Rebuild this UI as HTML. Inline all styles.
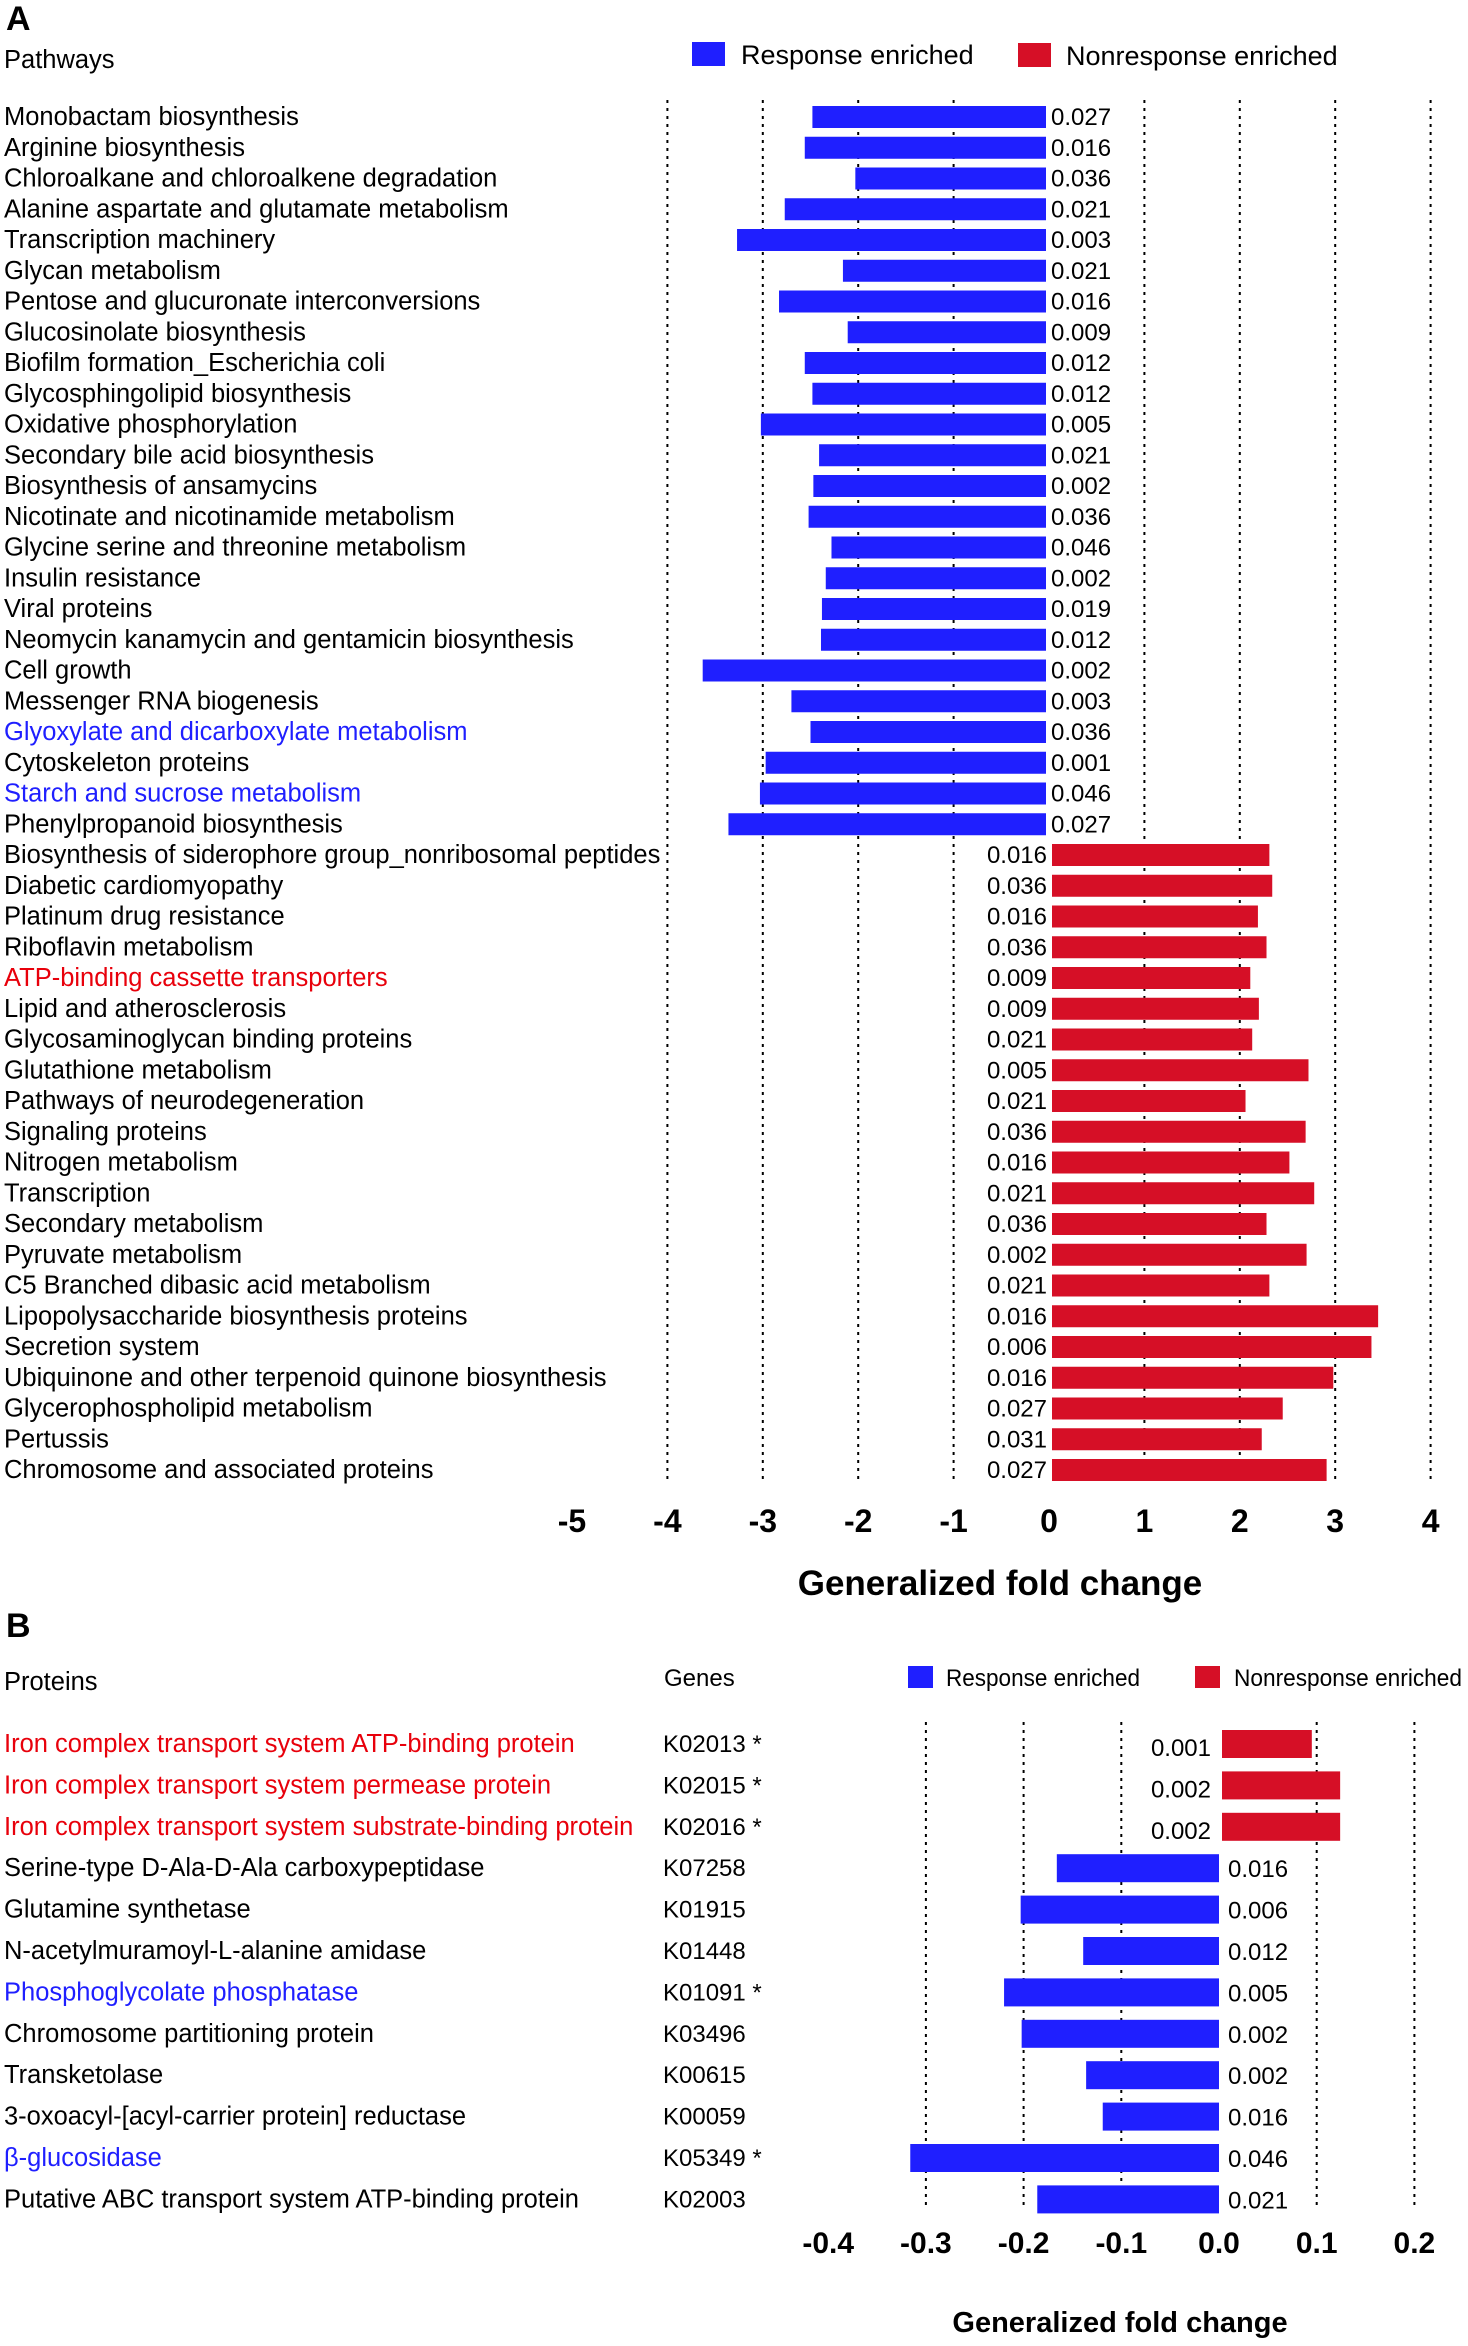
<!DOCTYPE html>
<html><head><meta charset="utf-8"><style>
html,body{margin:0;padding:0;background:#fff;}
svg{display:block;font-family:"Liberation Sans",Arial,sans-serif;}
</style></head><body>
<svg id="chart" width="1468" height="2346" viewBox="0 0 1468 2346" xmlns="http://www.w3.org/2000/svg"></svg>
<script>
// ---- Panel A data ----
const pathwaysA = ["Monobactam biosynthesis","Arginine biosynthesis","Chloroalkane and chloroalkene degradation","Alanine aspartate and glutamate metabolism","Transcription machinery","Glycan metabolism","Pentose and glucuronate interconversions","Glucosinolate biosynthesis","Biofilm formation_Escherichia coli","Glycosphingolipid biosynthesis","Oxidative phosphorylation","Secondary bile acid biosynthesis","Biosynthesis of ansamycins","Nicotinate and nicotinamide metabolism","Glycine serine and threonine metabolism","Insulin resistance","Viral proteins","Neomycin kanamycin and gentamicin biosynthesis","Cell growth","Messenger RNA biogenesis","Glyoxylate and dicarboxylate metabolism","Cytoskeleton proteins","Starch and sucrose metabolism","Phenylpropanoid biosynthesis","Biosynthesis of siderophore group_nonribosomal peptides","Diabetic cardiomyopathy","Platinum drug resistance","Riboflavin metabolism","ATP-binding cassette transporters","Lipid and atherosclerosis","Glycosaminoglycan binding proteins","Glutathione metabolism","Pathways of neurodegeneration","Signaling proteins","Nitrogen metabolism","Transcription","Secondary metabolism","Pyruvate metabolism","C5 Branched dibasic acid metabolism","Lipopolysaccharide biosynthesis proteins","Secretion system","Ubiquinone and other terpenoid quinone biosynthesis","Glycerophospholipid metabolism","Pertussis","Chromosome and associated proteins"];
const foldA = [-2.48,-2.56,-2.03,-2.77,-3.27,-2.16,-2.83,-2.11,-2.56,-2.48,-3.02,-2.41,-2.47,-2.52,-2.28,-2.34,-2.38,-2.39,-3.63,-2.70,-2.50,-2.97,-3.03,-3.36,2.31,2.34,2.19,2.28,2.11,2.20,2.13,2.72,2.06,2.69,2.52,2.78,2.28,2.70,2.31,3.45,3.38,2.98,2.45,2.23,2.91];
const pA = ["0.027","0.016","0.036","0.021","0.003","0.021","0.016","0.009","0.012","0.012","0.005","0.021","0.002","0.036","0.046","0.002","0.019","0.012","0.002","0.003","0.036","0.001","0.046","0.027","0.016","0.036","0.016","0.036","0.009","0.009","0.021","0.005","0.021","0.036","0.016","0.021","0.036","0.002","0.021","0.016","0.006","0.016","0.027","0.031","0.027"];
const colorA = {20:"#1f1fff",22:"#1f1fff",28:"#e8000b"};
const ticksA = [-5,-4,-3,-2,-1,0,1,2,3,4];
const gridA = [-4,-3,-2,-1,1,2,3,4];

// ---- Panel B data ----
const proteinsB = ["Iron complex transport system ATP-binding protein","Iron complex transport system permease protein","Iron complex transport system substrate-binding protein","Serine-type D-Ala-D-Ala carboxypeptidase","Glutamine synthetase","N-acetylmuramoyl-L-alanine amidase","Phosphoglycolate phosphatase","Chromosome partitioning protein","Transketolase","3-oxoacyl-[acyl-carrier protein] reductase","β-glucosidase","Putative ABC transport system ATP-binding protein"];
const genesB = ["K02013","K02015","K02016","K07258","K01915","K01448","K01091","K03496","K00615","K00059","K05349","K02003"];
const starB = [1,1,1,0,0,0,1,0,0,0,1,0];
const foldB = [0.095,0.124,0.124,-0.166,-0.203,-0.139,-0.220,-0.202,-0.136,-0.119,-0.316,-0.186];
const pB = ["0.001","0.002","0.002","0.016","0.006","0.012","0.005","0.002","0.002","0.016","0.046","0.021"];
const colorB = {0:"#e8000b",1:"#e8000b",2:"#e8000b",6:"#1f1fff",10:"#1f1fff"};
const ticksB = [-0.4,-0.3,-0.2,-0.1,0.0,0.1,0.2];
const gridB = [-0.3,-0.2,-0.1,0.1,0.2];

const NS="http://www.w3.org/2000/svg";
const svg=document.getElementById('chart');
function mk(tag,attrs,text){const e=document.createElementNS(NS,tag);for(const k in attrs)e.setAttribute(k,attrs[k]);if(text!==undefined)e.textContent=text;svg.appendChild(e);return e;}
const BLUE="#1f1fff", RED="#d60f26";
const LF=25.5;

// ---- Panel A ----
const xA=v=>1049+v*95.4;
const yA=i=>117+i*30.75;
let e;
e=mk('text',{x:6,y:30,'font-size':34,'font-weight':'bold'},'A');

e=mk('text',{x:4,y:68,'font-size':LF},'Pathways');

e=mk('rect',{x:692,y:42,width:33,height:24,fill:BLUE});

e=mk('text',{x:741,y:64,'font-size':27},'Response enriched');

e=mk('rect',{x:1018,y:43,width:33,height:24,fill:RED});

e=mk('text',{x:1066,y:65,'font-size':27},'Nonresponse enriched');

gridA.forEach(g=>{
  e=mk('line',{x1:xA(g),x2:xA(g),y1:100,y2:1482,stroke:'#000','stroke-width':2,'stroke-dasharray':'3,5'});
  
});
pathwaysA.forEach((name,i)=>{
  const y=yA(i), v=foldA[i];
  e=mk('text',{x:4,y:y+8,'font-size':LF,fill:colorA[i]||'#000'},name);
  
  if(v<0){
    e=mk('rect',{x:xA(v),y:y-11,width:xA(0)-3-xA(v),height:22,fill:BLUE});
    
    e=mk('text',{x:xA(0)+2,y:y+8,'font-size':24},pA[i]);
  }else{
    e=mk('rect',{x:xA(0)+3,y:y-11,width:xA(v)-xA(0)-3,height:22,fill:RED});
    
    e=mk('text',{x:xA(0)-2,y:y+8,'font-size':24,'text-anchor':'end'},pA[i]);
  }
  
});
ticksA.forEach(t=>{
  e=mk('text',{x:xA(t),y:1532,'font-size':32,'font-weight':'bold','text-anchor':'middle'},String(t));
  
});
e=mk('text',{x:1000,y:1595,'font-size':35,'font-weight':'bold','text-anchor':'middle'},'Generalized fold change');


// ---- Panel B ----
const xB=v=>1219+v*977;
const yB=i=>1744+i*41.4;
e=mk('text',{x:6,y:1637,'font-size':34,'font-weight':'bold'},'B');

e=mk('text',{x:4,y:1690,'font-size':LF},'Proteins');

e=mk('text',{x:664,y:1686,'font-size':24},'Genes');

e=mk('rect',{x:908,y:1666,width:25,height:22,fill:BLUE});

e=mk('text',{x:946,y:1686,'font-size':24,textLength:194,lengthAdjust:'spacingAndGlyphs'},'Response enriched');

e=mk('rect',{x:1195,y:1666,width:25,height:22,fill:RED});

e=mk('text',{x:1234,y:1686,'font-size':24,textLength:228,lengthAdjust:'spacingAndGlyphs'},'Nonresponse enriched');

gridB.forEach(g=>{
  e=mk('line',{x1:xB(g),x2:xB(g),y1:1722,y2:2207,stroke:'#000','stroke-width':2,'stroke-dasharray':'3,5'});
  
});
proteinsB.forEach((name,i)=>{
  const y=yB(i), v=foldB[i];
  e=mk('text',{x:4,y:y+8,'font-size':LF,fill:colorB[i]||'#000'},name);
  
  e=mk('text',{x:663,y:y+8,'font-size':24},genesB[i]+(starB[i]?' *':''));
  
  if(v<0){
    e=mk('rect',{x:xB(v),y:y-14,width:xB(0)-xB(v),height:28,fill:BLUE});
    
    e=mk('text',{x:xB(0)+9,y:y+9,'font-size':24},pB[i]);
  }else{
    e=mk('rect',{x:xB(0)+3,y:y-14,width:xB(v)-xB(0)-3,height:28,fill:RED});
    
    e=mk('text',{x:xB(0)-8,y:y+12,'font-size':24,'text-anchor':'end'},pB[i]);
  }
  
});
ticksB.forEach(t=>{
  e=mk('text',{x:xB(t),y:2253,'font-size':30,'font-weight':'bold','text-anchor':'middle'},t.toFixed(1));
  
});
e=mk('text',{x:1120,y:2332,'font-size':29,'font-weight':'bold','text-anchor':'middle'},'Generalized fold change');

</script>
</body></html>
